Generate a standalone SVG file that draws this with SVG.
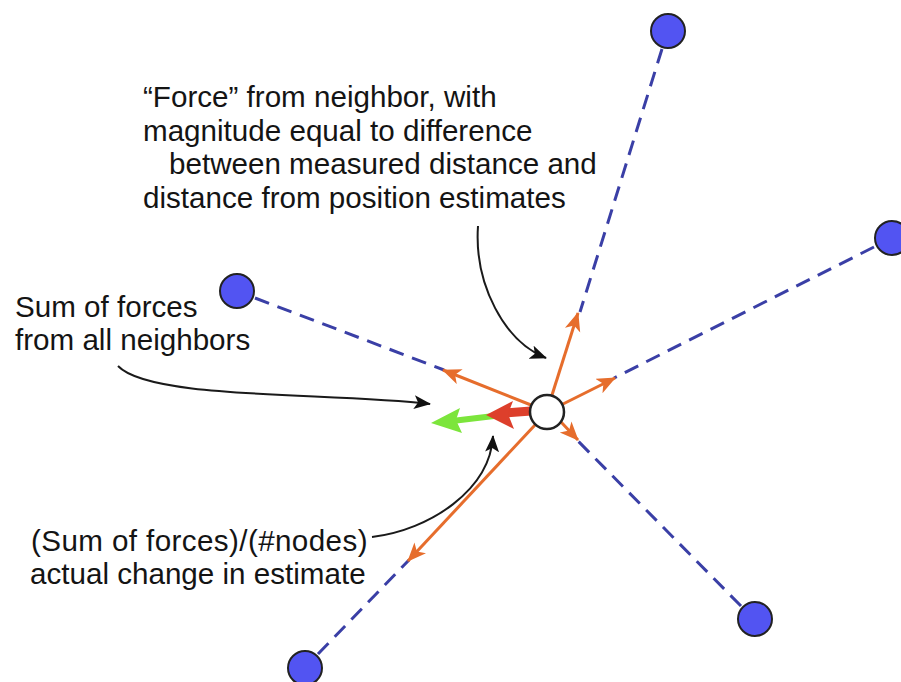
<svg xmlns="http://www.w3.org/2000/svg" width="901" height="682" viewBox="0 0 901 682">
<style>
  .txt { font-family: "Liberation Sans", Arial, sans-serif; font-size: 29.6px; fill: #141414; }
  .dash { stroke: #3a3fa6; stroke-width: 3; stroke-dasharray: 15 9; fill: none; }
  .nb { fill: #5254f2; stroke: #222; stroke-width: 2; }
  .force { stroke: #e66d2c; stroke-width: 3; fill: none; marker-end: url(#oh); }
  .callout { stroke: #1a1a1a; stroke-width: 2; fill: none; marker-end: url(#bh); }
</style>
<defs>
  <marker id="oh" markerUnits="userSpaceOnUse" markerWidth="22" markerHeight="18" refX="18" refY="8" orient="auto">
    <path d="M0,0 L19,8 L0,16 L5,8 Z" fill="#e66d2c"/>
  </marker>
  <marker id="bh" markerUnits="userSpaceOnUse" markerWidth="20" markerHeight="16" refX="16" refY="7" orient="auto">
    <path d="M0,0 L17,7 L0,14 L4,7 Z" fill="#111"/>
  </marker>
</defs>
<rect width="901" height="682" fill="#fff"/>
<g id="connectors">
  <line class="dash" x1="662" y1="49" x2="580" y2="312"/>
  <line class="dash" x1="874" y1="247" x2="614" y2="378"/>
  <line class="dash" x1="255" y1="298" x2="444" y2="370"/>
  <line class="dash" x1="741" y1="606" x2="577" y2="440"/>
  <line class="dash" x1="318" y1="654" x2="409" y2="560"/>
  <line class="force" x1="552" y1="395" x2="578" y2="313"/>
  <line class="force" x1="563" y1="404" x2="615" y2="378"/>
  <line class="force" x1="531" y1="405" x2="443" y2="370"/>
  <line class="force" x1="561" y1="422" x2="578" y2="440"/>
  <line class="force" x1="535" y1="425" x2="408" y2="561"/>
  <g id="green-arrow">
    <line x1="494" y1="416" x2="452" y2="421" stroke="#7ce53c" stroke-width="6"/>
    <path d="M431,423 L460,408 L456,420 L462,433 Z" fill="#7ce53c"/>
  </g>
  <g id="red-arrow">
    <line x1="531" y1="411" x2="505" y2="413" stroke="#dd3f2b" stroke-width="9"/>
    <path d="M486,415 L513,401 L508,414 L514,429 Z" fill="#dd3f2b"/>
  </g>
  <path class="callout" d="M478,226 C474,285 505,342 546,358"/>
  <path class="callout" d="M118,366 C150,400 330,392 430,404"/>
  <path class="callout" d="M372,537 C430,530 490,490 493,436"/>
</g>
<g id="n-top"><circle class="nb" cx="668" cy="31" r="17"/></g>
<g id="n-right"><circle class="nb" cx="892" cy="238" r="17"/></g>
<g id="n-left"><circle class="nb" cx="237" cy="291" r="17"/></g>
<g id="n-bottomright"><circle class="nb" cx="755" cy="619" r="17"/></g>
<g id="n-bottomleft"><circle class="nb" cx="305" cy="668" r="17"/></g>
<g id="n-center"><circle cx="547" cy="412" r="17" fill="#fff" stroke="#222" stroke-width="2.5"/></g>
<g id="label-force">
  <text class="txt" x="143" y="107">“Force” from neighbor, with</text>
  <text class="txt" x="143" y="141">magnitude equal to difference</text>
  <text class="txt" x="169" y="174">between measured distance and</text>
  <text class="txt" x="143" y="208">distance from position estimates</text>
</g>
<g id="label-sum">
  <text class="txt" x="15" y="317">Sum of forces</text>
  <text class="txt" x="15" y="350">from all neighbors</text>
</g>
<g id="label-change">
  <text class="txt" x="31" y="551" letter-spacing="0.4">(Sum of forces)/(#nodes)</text>
  <text class="txt" x="30" y="584">actual change in estimate</text>
</g>
</svg>
